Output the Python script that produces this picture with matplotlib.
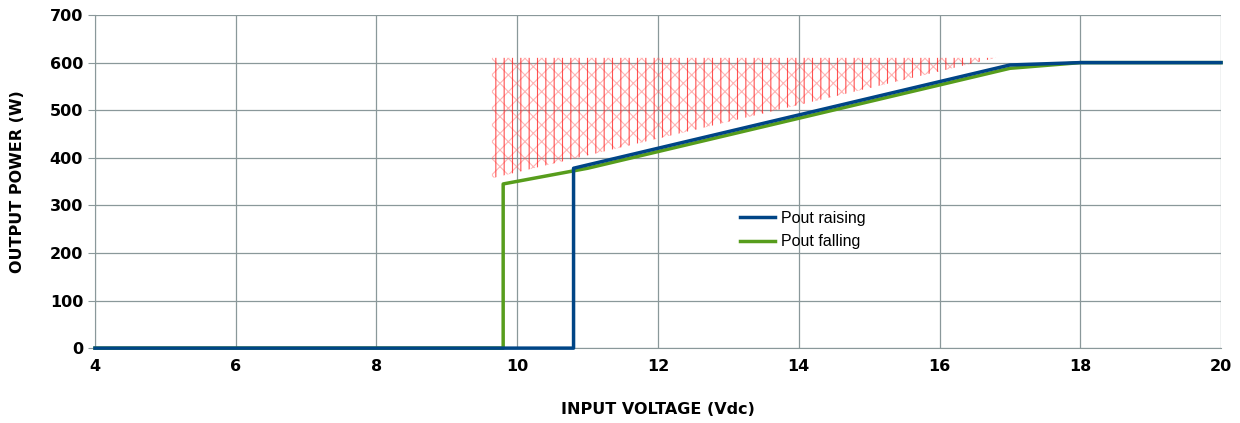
import matplotlib
matplotlib.use('Agg')
import matplotlib.pyplot as plt

# data
v_raising = [4, 10.8, 10.8, 17, 18, 20]
p_raising = [0, 0, 378, 595, 600, 600]
v_falling = [4, 9.8, 9.8, 11, 17, 18, 20]
p_falling = [0, 0, 345, 378, 588, 600, 600]

# hatched zone above the curves
zone_v = [9.64, 16.8]
zone_low = [357, 610]
zone_top = [610, 610]

x_ticks = [4, 6, 8, 10, 12, 14, 16, 18, 20]
y_ticks = [0, 100, 200, 300, 400, 500, 600, 700]

BLUE = '#004586'
GREEN = '#579d1c'
GRID = '#8a989a'

plt.rcParams['font.family'] = ['DejaVu Sans']
plt.rcParams['hatch.linewidth'] = 0.8

fig = plt.figure(figsize=(12.4, 4.23), dpi=100)
ax = fig.add_axes([0.0766, 0.177, 0.9081, 0.7875])

ax.fill_between(zone_v, zone_low, zone_top, facecolor='none',
                edgecolor=(1, 0.35, 0.35, 0.45), hatch='xx', linewidth=0)
ax.fill_between(zone_v, zone_low, zone_top, facecolor='none',
                edgecolor=(1, 0.15, 0.15, 0.8), hatch='||', linewidth=0)

l_fall, = ax.plot(v_falling, p_falling, color=GREEN, lw=2.5, label='Pout falling',
                  clip_on=False, zorder=3)
l_rise, = ax.plot(v_raising, p_raising, color=BLUE, lw=2.5, label='Pout raising',
                  clip_on=False, zorder=4)

ax.set_xlim(4, 20)
ax.set_ylim(0, 700)
ax.set_xticks(x_ticks)
ax.set_yticks(y_ticks)
ax.grid(True, color=GRID, lw=0.9)
ax.set_axisbelow(True)
for s in ['top', 'right']:
    ax.spines[s].set_visible(False)
for s in ['left', 'bottom']:
    ax.spines[s].set_color(GRID)
ax.tick_params(axis='both', colors=GRID, length=5, labelsize=11.5,
               labelcolor='black')
ax.tick_params(axis='x', length=0, pad=8)
for lab in ax.get_xticklabels() + ax.get_yticklabels():
    lab.set_fontweight('bold')

ax.set_xlabel('INPUT VOLTAGE (Vdc)', fontsize=11.5, fontweight='bold', labelpad=20)
ax.set_ylabel('OUTPUT POWER (W)', fontsize=11.5, fontweight='bold', labelpad=18)

ax.legend(handles=[l_rise, l_fall], loc='upper left', bbox_to_anchor=(0.567, 0.432),
          frameon=False, handlelength=2.2, handletextpad=0.4,
          borderaxespad=0, labelspacing=0.55,
          prop={'family': 'Liberation Sans', 'size': 11.5})

fig.savefig('out.png', dpi=100)
